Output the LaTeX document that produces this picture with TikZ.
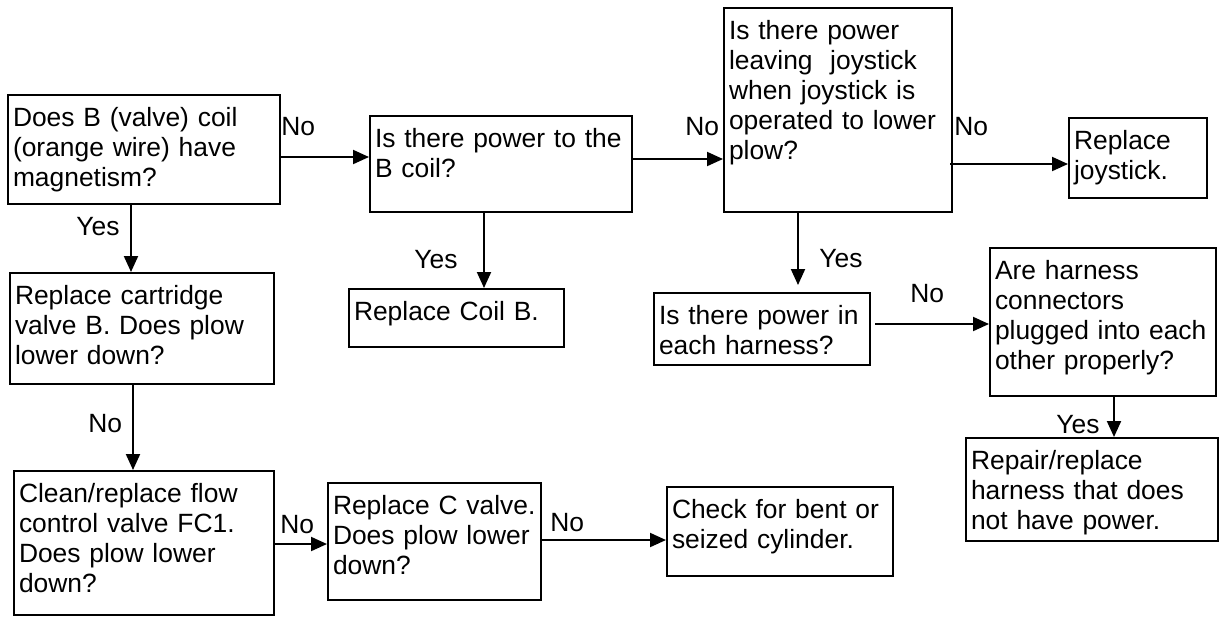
\documentclass[tikz,border=0pt]{standalone}
\usepackage{fontspec}
\setmainfont{Liberation Sans}
\usetikzlibrary{arrows.meta}
\begin{document}
\begin{tikzpicture}[x={(0.5pt,0)},y={(0,-0.5pt)},
  every node/.style={font=\fontsize{13.2}{15}\selectfont},
  box/.style={draw,line width=1pt,anchor=north west,align=left,inner xsep=2.5pt,inner ysep=0pt,text height=15.5pt},
  lbl/.style={anchor=base west,inner sep=0pt},
  arr/.style={line width=1pt,-{Triangle[length=8pt,width=7pt]}}]
\useasboundingbox (0,0) rectangle (1225,618);
% boxes, top left corners in pixels
\node[box,text width=131pt,text depth=39pt] (coilq) at (7,94) {Does B (valve) coil\\(orange wire) have\\magnetism?};
\node[box,text width=126pt,text depth=32.5pt] (powerq) at (369,115) {Is there power to the\\B coil?};
\node[box,text width=109pt,text depth=86.5pt] (joyq) at (723,7) {Is there power\\leaving~ joystick\\when joystick is\\operated to lower\\plow?};
\node[box,text width=64pt,text depth=24.5pt] (joyrep) at (1068,117) {Replace\\joystick.};
\node[box,text width=102.5pt,text depth=13.5pt] (coilrep) at (348,288) {Replace Coil B.};
\node[box,text width=127pt,text depth=40pt] (cartq) at (9,272) {Replace cartridge\\valve B. Does plow\\lower down?};
\node[box,text width=103pt,text depth=20.5pt] (harnq) at (653,292) {Is there power in\\each harness?};
\node[box,text width=108pt,text depth=58.5pt] (connq) at (989,247) {Are harness\\connectors\\plugged into each\\other properly?};
\node[box,text width=121pt,text depth=36pt] (harnrep) at (965,437) {Repair/replace\\harness that does\\not have power.};
\node[box,text width=125pt,text depth=56.5pt] (flowq) at (13,470) {Clean/replace flow\\control valve FC1.\\Does plow lower\\down?};
\node[box,text width=101.5pt,text depth=43pt] (cvalveq) at (327,482) {Replace C valve.\\Does plow lower\\down?};
\node[box,text width=108pt,text depth=29pt] (cylchk) at (666,486) {Check for bent or\\seized cylinder.};
% connectors
\draw[arr] ([yshift=-3.75pt]coilq.east) -- ([yshift=-3.75pt]powerq.west |- coilq.east);
\draw[arr] ([yshift=2.5pt]powerq.east) -- ([yshift=2.5pt]joyq.west |- powerq.east);
\draw[arr,shorten <=-1.5pt] ([yshift=-27pt]joyq.east) -- ([yshift=-27pt]joyrep.west |- joyq.east);
\draw[arr] ([xshift=-6.5pt]coilq.south) -- ([xshift=-6.5pt]coilq.south |- cartq.north);
\draw[arr] ([xshift=-8.5pt]powerq.south) -- ([xshift=-8.5pt]powerq.south |- coilrep.north);
\draw[arr,shorten >=3.5pt] ([xshift=-20pt]joyq.south) -- ([xshift=-20pt]joyq.south |- harnq.north);
\draw[arr,shorten <=2pt] ([yshift=2.5pt]harnq.east) -- ([yshift=2.5pt]connq.west |- harnq.east);
\draw[arr] ([xshift=-4.5pt]cartq.south) -- ([xshift=-4.5pt]cartq.south |- flowq.north);
\draw[arr] ([yshift=-0.5pt]flowq.east) -- ([yshift=-0.5pt]cvalveq.west |- flowq.east);
\draw[arr] ([yshift=0.75pt]cvalveq.east) -- ([yshift=0.75pt]cylchk.west |- cvalveq.east);
\draw[arr] ([xshift=5.5pt]connq.south) -- ([xshift=5.5pt]connq.south |- harnrep.north);
% labels
\node[lbl] (no1) at (281,135) {No};
\node[lbl] (no2) at (685,135) {No};
\node[lbl] (no3) at (954,135) {No};
\node[lbl] (yes1) at (76,235) {Yes};
\node[lbl] (yes2) at (414,268) {Yes};
\node[lbl] (yes3) at (819,267) {Yes};
\node[lbl] (no4) at (910,302) {No};
\node[lbl] (no5) at (88,432) {No};
\node[lbl] (no6) at (280,533) {No};
\node[lbl] (no7) at (550,531) {No};
\node[lbl] (yes4) at (1056,433) {Yes};
\end{tikzpicture}
\end{document}
